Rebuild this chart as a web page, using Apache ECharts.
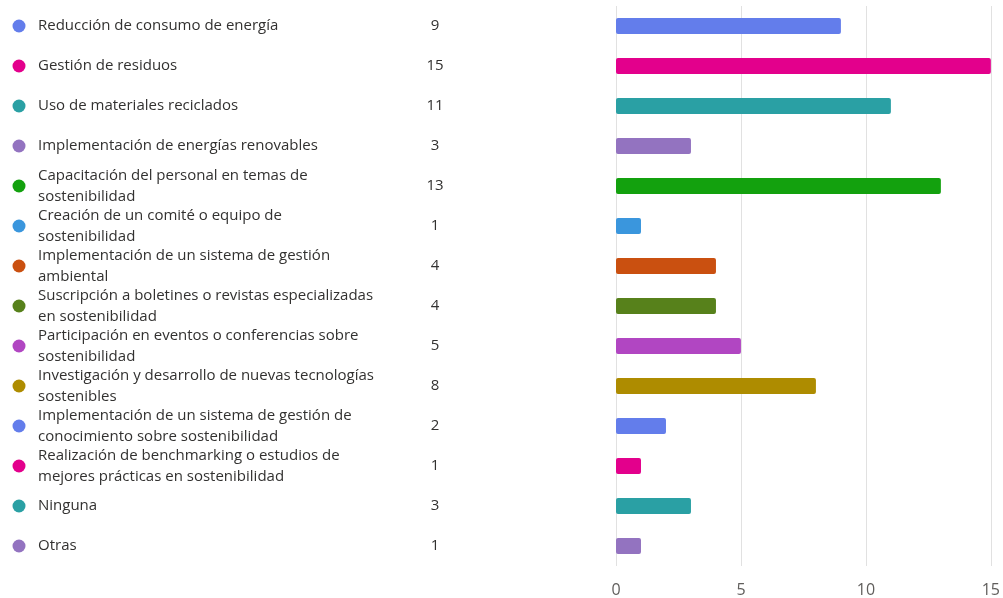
<!DOCTYPE html>
<html lang="es">
<head>
    <meta charset="UTF-8">
    <title>Acciones de sostenibilidad</title>
    <script src="https://cdn.jsdelivr.net/npm/echarts@6/dist/echarts.min.js"></script>
    <style>
        html, body { margin: 0; padding: 0; background: #fff; }
        #container { width: 1003px; height: 598px; }
    </style>
</head>
<body>
<div id="container"></div>
<script>
    // categorias (con el salto de linea como aparece en la leyenda)
    var categories = [
        'Reducción de consumo de energía',
        'Gestión de residuos',
        'Uso de materiales reciclados',
        'Implementación de energías renovables',
        'Capacitación del personal en temas de\nsostenibilidad',
        'Creación de un comité o equipo de\nsostenibilidad',
        'Implementación de un sistema de gestión\nambiental',
        'Suscripción a boletines o revistas especializadas\nen sostenibilidad',
        'Participación en eventos o conferencias sobre\nsostenibilidad',
        'Investigación y desarrollo de nuevas tecnologías\nsostenibles',
        'Implementación de un sistema de gestión de\nconocimiento sobre sostenibilidad',
        'Realización de benchmarking o estudios de\nmejores prácticas en sostenibilidad',
        'Ninguna',
        'Otras'
    ];
    var values = [9, 15, 11, 3, 13, 1, 4, 4, 5, 8, 2, 1, 3, 1];
    var colors = ['#637DEB', '#E3008C', '#2AA0A4', '#9373C0', '#13A10E', '#3A96DD', '#CA5010',
                  '#57811B', '#B146C2', '#AE8C00', '#637DEB', '#E3008C', '#2AA0A4', '#9373C0'];
    var xTicks = [0, 5, 10, 15];

    var font = '"Open Sans", sans-serif';
    var txt = '#323130';

    // rich para los puntos de color
    var dotRich = {};
    colors.forEach(function (c, i) {
        dotRich['c' + i] = {width: 13, height: 13, borderRadius: 7, backgroundColor: c};
    });

    var myChart = echarts.init(document.getElementById('container'), null, {renderer: 'canvas'});

    var catAxisBase = {
        type: 'category',
        data: categories,
        inverse: true,
        position: 'left',
        axisLine: {show: false},
        axisTick: {show: false},
        splitLine: {show: false}
    };

    var option = {
        animation: false,
        grid: {left: 616, right: 8, top: 6, bottom: 32},
        xAxis: {
            type: 'value',
            min: xTicks[0],
            max: xTicks[xTicks.length - 1],
            interval: 5,
            axisLine: {show: false},
            axisTick: {show: false},
            splitLine: {show: true, lineStyle: {color: '#e1e1e1', width: 1}},
            axisLabel: {color: '#605e5c', fontSize: 16, fontFamily: font, margin: 16}
        },
        yAxis: [
            // nombres
            Object.assign({}, catAxisBase, {
                axisLabel: {
                    align: 'left',
                    margin: 578,
                    color: txt,
                    fontSize: 15,
                    lineHeight: 21,
                    fontFamily: font
                }
            }),
            // puntos
            Object.assign({}, catAxisBase, {
                axisLabel: {
                    align: 'center',
                    margin: 597,
                    formatter: function (v, i) { return '{c' + i + '|}'; },
                    rich: dotRich
                }
            }),
            // valores
            Object.assign({}, catAxisBase, {
                axisLabel: {
                    align: 'center',
                    margin: 181,
                    color: txt,
                    fontSize: 15,
                    fontFamily: font,
                    formatter: function (v, i) { return String(values[i]); }
                }
            })
        ],
        series: [{
            type: 'bar',
            yAxisIndex: 0,
            barWidth: 16,
            data: values.map(function (v, i) {
                return {value: v, itemStyle: {color: colors[i], borderRadius: 2}};
            })
        }]
    };

    myChart.setOption(option);
</script>
</body>
</html>
